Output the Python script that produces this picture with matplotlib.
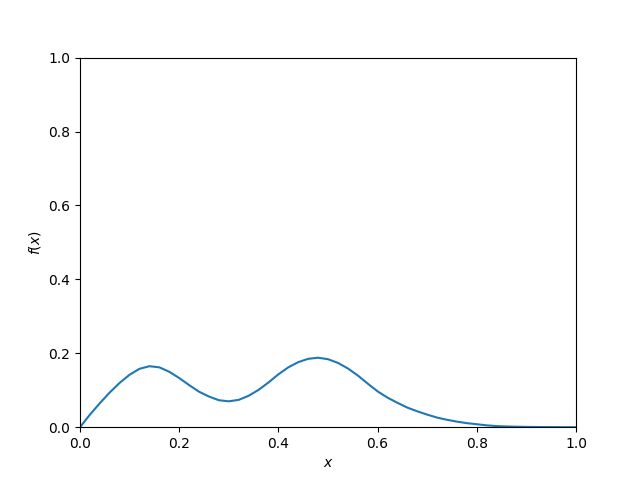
import matplotlib
matplotlib.use("Agg")
import matplotlib.pyplot as plt

# Sample positions and density values
x = [0.00, 0.02, 0.04, 0.06, 0.08, 0.10, 0.12, 0.14, 0.16, 0.18,
     0.20, 0.22, 0.24, 0.26, 0.28, 0.30, 0.32, 0.34, 0.36, 0.38,
     0.40, 0.42, 0.44, 0.46, 0.48, 0.50, 0.52, 0.54, 0.56, 0.58,
     0.60, 0.62, 0.64, 0.66, 0.68, 0.70, 0.72, 0.74, 0.76, 0.78,
     0.80, 0.82, 0.84, 0.86, 0.88, 0.90, 0.92, 0.94, 0.96, 0.98, 1.00]
fx = [0.000, 0.034, 0.065, 0.094, 0.120, 0.142, 0.158, 0.165, 0.162, 0.150,
      0.133, 0.114, 0.096, 0.083, 0.073, 0.070, 0.074, 0.085, 0.101, 0.121,
      0.143, 0.162, 0.176, 0.185, 0.188, 0.184, 0.174, 0.159, 0.140, 0.118,
      0.097, 0.080, 0.066, 0.053, 0.043, 0.034, 0.026, 0.020, 0.015, 0.011,
      0.008, 0.005, 0.003, 0.002, 0.0013, 0.0008, 0.0005, 0.0003, 0.0002, 0.0001, 0.0]

fig, ax = plt.subplots(figsize=(6.4, 4.8), dpi=100)

ax.plot(x, fx, color="#1f77b4")

ax.set_xlim(0, 1)
ax.set_ylim(0, 1)
ax.set_xlabel("$x$")
ax.set_ylabel("$f(x)$")

fig.savefig("out.png", dpi=100)
